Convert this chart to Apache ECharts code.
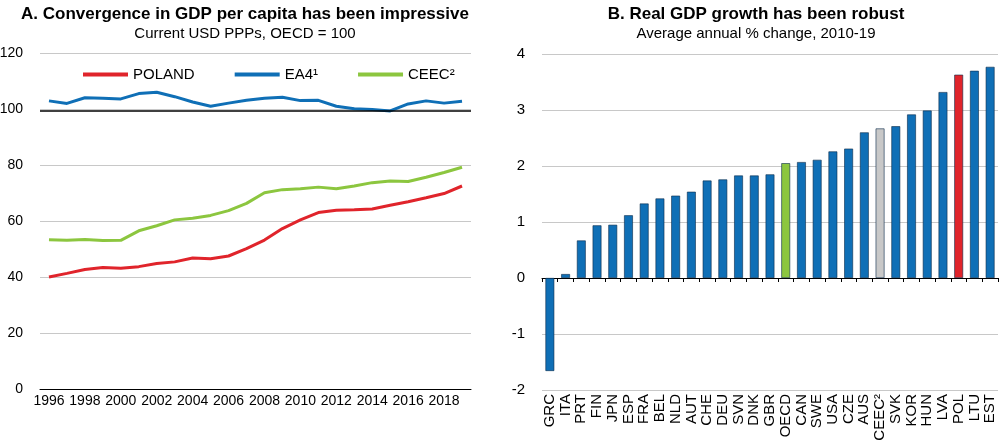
<!DOCTYPE html>
<html><head><meta charset="utf-8">
<script src="https://cdn.jsdelivr.net/npm/echarts@6/dist/echarts.min.js"></script>
<style>html,body{margin:0;padding:0;background:#fff}#c{width:1000px;height:440px}</style>
</head><body><div id="c"></div>
<script>
var years = ['1996','1997','1998','1999','2000','2001','2002','2003','2004','2005','2006','2007','2008','2009','2010','2011','2012','2013','2014','2015','2016','2017','2018','2019'];
var poland = [40.0,41.3,42.7,43.4,43.1,43.7,44.8,45.4,46.8,46.5,47.5,50.1,53.2,57.3,60.4,63.0,63.8,64.0,64.3,65.6,66.9,68.3,69.8,72.5];
var ea4 = [102.9,102.0,104.0,103.8,103.6,105.5,106.0,104.4,102.5,101.0,102.1,103.1,103.8,104.2,103.0,103.1,101.0,100.1,99.8,99.3,101.8,102.9,102.1,102.8];
var ceec = [53.3,53.1,53.4,53.0,53.1,56.5,58.3,60.4,61.0,62.0,63.7,66.3,70.1,71.2,71.5,72.1,71.5,72.5,73.7,74.3,74.1,75.6,77.3,79.2];
var countries = ['GRC','ITA','PRT','FIN','JPN','ESP','FRA','BEL','NLD','AUT','CHE','DEU','SVN','DNK','GBR','OECD','CAN','SWE','USA','CZE','AUS','CEEC²','SVK','KOR','HUN','LVA','POL','LTU','EST'];
var growth = [-1.66,0.07,0.67,0.94,0.95,1.12,1.33,1.42,1.47,1.54,1.74,1.76,1.83,1.83,1.85,2.05,2.07,2.11,2.26,2.31,2.60,2.67,2.71,2.92,2.99,3.32,3.63,3.70,3.77];

var RED='#e0242b', BLUE='#0f6fb6', GREEN='#8cc63f', GREY='#c8c8c8';
var FONT="'Liberation Sans Narrow','Arial Narrow','Liberation Sans',Arial,sans-serif";
var highlight = {'POL':RED,'OECD':GREEN,'CEEC²':GREY};
var barData = countries.map(function(c,i){
  return {value: growth[i], itemStyle:{color: highlight[c]||BLUE}};
});

var chart = echarts.init(document.getElementById('c'), null, {renderer:'canvas'});
chart.setOption({
  animation:false,
  textStyle:{fontFamily:FONT},
  title:[
    {text:'A. Convergence in GDP per capita has been impressive', subtext:'Current USD PPPs, OECD = 100',
     left:240, top:1, textAlign:'center', itemGap:3,
     textStyle:{fontFamily:FONT,fontSize:17,fontWeight:'bold',color:'#000'},
     subtextStyle:{fontFamily:FONT,fontSize:15,color:'#000'}},
    {text:'B. Real GDP growth has been robust', subtext:'Average annual % change, 2010-19',
     left:751, top:1, textAlign:'center', itemGap:3,
     textStyle:{fontFamily:FONT,fontSize:17,fontWeight:'bold',color:'#000'},
     subtextStyle:{fontFamily:FONT,fontSize:15,color:'#000'}}
  ],
  legend:{data:['POLAND','EA4¹','CEEC²'], left:78, top:62, icon:'rect', itemWidth:45, itemHeight:4, itemGap:40,
    textStyle:{fontFamily:FONT,fontSize:15,color:'#000'}},
  grid:[
    {left:40, right:529, top:53, bottom:51, outerBoundsMode:'none', containLabel:false},
    {left:542, right:2, top:54, bottom:50, outerBoundsMode:'none', containLabel:false}
  ],
  xAxis:[
    {type:'category', gridIndex:0, data:years, boundaryGap:true,
     axisLine:{lineStyle:{color:'#000',width:1}},
     axisTick:{inside:true,length:5,interval:0,lineStyle:{color:'#000'}},
     axisLabel:{interval:1,color:'#000',fontSize:14,fontFamily:FONT,margin:5}},
    {type:'category', gridIndex:1, data:countries, position:'bottom',
     axisLine:{show:false,onZero:false}, axisTick:{show:false},
     axisLabel:{interval:0,rotate:90,color:'#000',fontSize:15,fontFamily:FONT,margin:4}},
    {type:'category', gridIndex:1, data:countries, position:'bottom',
     axisLine:{onZero:true,lineStyle:{color:'#000',width:1}},
     axisTick:{show:true,length:4,interval:0,lineStyle:{color:'#000'}},
     axisLabel:{show:false}}
  ],
  yAxis:[
    {type:'value', gridIndex:0, min:0, max:120, interval:20,
     axisLine:{show:false}, axisTick:{show:false},
     axisLabel:{color:'#000',fontSize:14,fontFamily:FONT,margin:17},
     splitLine:{lineStyle:{color:'#c8c8c8',width:1}}},
    {type:'value', gridIndex:1, min:-2, max:4, interval:1,
     axisLine:{show:false}, axisTick:{show:false},
     axisLabel:{color:'#000',fontSize:15,fontFamily:FONT,margin:17},
     splitLine:{lineStyle:{color:'#c8c8c8',width:1}}}
  ],
  series:[
    {name:'POLAND', type:'line', xAxisIndex:0, yAxisIndex:0, data:poland, symbol:'none',
     lineStyle:{color:RED,width:3}, itemStyle:{color:RED}, z:3},
    {name:'EA4¹', type:'line', xAxisIndex:0, yAxisIndex:0, data:ea4, symbol:'none',
     lineStyle:{color:BLUE,width:3}, itemStyle:{color:BLUE}, z:3,
     markLine:{silent:true, symbol:'none', label:{show:false},
       lineStyle:{color:'#000',width:1.5,type:'solid'}, data:[{yAxis:99.2}]}},
    {name:'CEEC²', type:'line', xAxisIndex:0, yAxisIndex:0, data:ceec, symbol:'none',
     lineStyle:{color:GREEN,width:3}, itemStyle:{color:GREEN}, z:3},
    {name:'growth', type:'bar', xAxisIndex:1, yAxisIndex:1, data:barData, barWidth:'56%',
     itemStyle:{borderColor:'#0a2a4a',borderWidth:0.6}}
  ]
});
</script></body></html>
